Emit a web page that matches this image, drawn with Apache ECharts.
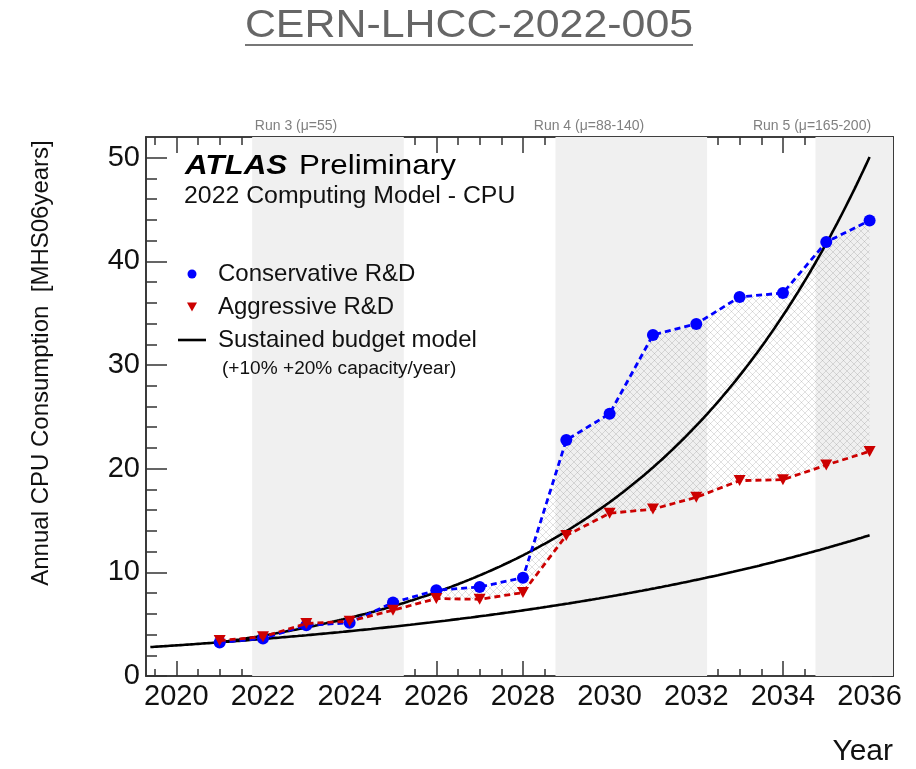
<!DOCTYPE html>
<html>
<head>
<meta charset="utf-8">
<title>ATLAS 2022 Computing Model - CPU</title>
<script src="https://cdn.jsdelivr.net/npm/echarts@6/dist/echarts.min.js"></script>
<style>
  html, body { margin: 0; padding: 0; background: #fff; }
  #chart { width: 916px; height: 769px; }
</style>
</head>
<body>
<div id="chart"></div>
<script>
// ---- data ---------------------------------------------------------------
const years = [2021, 2022, 2023, 2024, 2025, 2026, 2027, 2028,
               2029, 2030, 2031, 2032, 2033, 2034, 2035, 2036];
// Annual CPU consumption [MHS06 years]
const conservativeRD = [3.24, 3.62, 4.90, 5.13, 7.08, 8.27, 8.59, 9.49,
                        22.76, 25.30, 32.90, 33.97, 36.57, 36.95, 41.86, 43.95];
const aggressiveRD   = [3.42, 3.78, 5.06, 5.29, 6.35, 7.47, 7.40, 8.05,
                        13.56, 15.70, 16.10, 17.24, 18.85, 18.94, 20.35, 21.67];

// Sustained budget model: flat-budget capacity growth of +10% and +20% per year
const budgetBaseYear = 2021;
const budgetBaseValue = 3.25;
const budgetLow  = { rate: 0.10, from: 2019.4, to: 2036 };
const budgetHigh = { rate: 0.20, from: 2021,   to: 2036 };

// LHC run periods
const runNames  = ['Run 3 (\u03bc=55)', 'Run 4 (\u03bc=88-140)', 'Run 5 (\u03bc=165-200)'];
const runStarts = [2021.75, 2028.75, 2034.75];
const runEnds   = [2025.25, 2032.25, 2036.54];

// axis ticks
const xTickYears  = [2020, 2022, 2024, 2026, 2028, 2030, 2032, 2034, 2036];
const yTickValues = [0, 10, 20, 30, 40, 50];

// ---- helpers --------------------------------------------------------------
const X_MIN = 2019.3, X_MAX = 2036.54, Y_MIN = 0, Y_MAX = 52;
const FONT = "'Liberation Sans', Arial, Helvetica, sans-serif";
const AXIS_COLOR = '#333';

const xMinorTicks = [];
for (let v = 2019.5; v <= 2036.5; v += 0.5) xMinorTicks.push(v);
const yMinorTicks = [];
for (let v = 0; v <= 50; v += 2) yMinorTicks.push(v);

function modelCurve(m) {
  const pts = [];
  const step = 0.05;
  const n = Math.round((m.to - m.from) / step);
  for (let i = 0; i <= n; i++) {
    const t = m.from + i * step;
    pts.push([t, budgetBaseValue * Math.pow(1 + m.rate, t - budgetBaseYear)]);
  }
  return pts;
}

// cross-hatch tile used between the two R&D scenarios
const hatchCanvas = document.createElement('canvas');
hatchCanvas.width = 7; hatchCanvas.height = 7;
(function () {
  const c = hatchCanvas.getContext('2d');
  c.strokeStyle = 'rgba(90,90,90,0.26)';
  c.lineWidth = 0.7;
  c.beginPath();
  c.moveTo(0, 0); c.lineTo(7, 7);
  c.moveTo(7, 0); c.lineTo(0, 7);
  c.stroke();
})();

function xAxis(gridIndex, position, ticks, len, withLabels) {
  return {
    type: 'value', gridIndex, position, min: X_MIN, max: X_MAX,
    axisLine: { show: true, onZero: false, lineStyle: { color: AXIS_COLOR, width: 1.6 } },
    axisTick: { show: true, inside: true, length: len, customValues: ticks,
                lineStyle: { color: AXIS_COLOR, width: 1.5 } },
    axisLabel: { show: withLabels, customValues: ticks, margin: 6,
                 fontFamily: FONT, fontSize: 29, color: '#111',
                 formatter: v => String(v) },
    splitLine: { show: false }
  };
}
function yAxis(gridIndex, position, ticks, len, withLabels) {
  return {
    type: 'value', gridIndex, position, min: Y_MIN, max: Y_MAX,
    axisLine: { show: true, onZero: false, lineStyle: { color: AXIS_COLOR, width: 1.6 } },
    axisTick: { show: true, inside: true, length: len, customValues: ticks,
                lineStyle: { color: AXIS_COLOR, width: 1.5 } },
    axisLabel: { show: withLabels, customValues: ticks, margin: 6,
                 fontFamily: FONT, fontSize: 29, color: '#111',
                 formatter: v => String(v) },
    splitLine: { show: false }
  };
}

const gridBox = { left: 146, top: 137, width: 747, height: 539 };

function label(x, y, text, style, extra) {
  return Object.assign({ type: 'text', x, y, z: 100,
    style: Object.assign({ text, fontFamily: FONT, fill: '#111',
                           textAlign: 'left', textVerticalAlign: 'middle' }, style) }, extra || {});
}

// ---- chart ---------------------------------------------------------------
const chart = echarts.init(document.getElementById('chart'), null, { renderer: 'canvas' });

chart.setOption({
  backgroundColor: '#fff',
  animation: false,
  grid: [
    Object.assign({}, gridBox),
    Object.assign({}, gridBox)
  ],
  xAxis: [
    xAxis(0, 'bottom', xTickYears, 15, true),
    xAxis(0, 'top', xTickYears, 16, false),
    xAxis(1, 'bottom', xMinorTicks, 7, false),
    xAxis(1, 'top', xMinorTicks, 8, false)
  ],
  yAxis: [
    yAxis(0, 'left', yTickValues, 21, true),
    yAxis(0, 'right', yTickValues, 21, false),
    yAxis(1, 'left', yMinorTicks, 11, false),
    yAxis(1, 'right', yMinorTicks, 11, false)
  ],
  legend: {
    orient: 'vertical', left: 173, top: 257, z: 100,
    itemWidth: 28, itemHeight: 9, itemGap: 9,
    selectedMode: false,
    textStyle: { fontFamily: FONT, fontSize: 24, color: '#111', padding: [0, 0, 0, 7] },
    itemStyle: { borderWidth: 0 },
    data: [
      { name: 'Conservative R&D', icon: 'circle' },
      { name: 'Aggressive R&D', icon: 'path://M0,0L10,0L5,9Z' },
      { name: 'Sustained budget model', icon: 'path://M0,0H28V2.6H0Z' }
    ]
  },
  graphic: [
    label(469, 26, 'CERN-LHCC-2022-005', { fontSize: 39, fill: '#666', textAlign: 'center' }, { scaleX: 1.1 }),
    { type: 'rect', z: 100, shape: { x: 245, y: 44, width: 448, height: 2 }, style: { fill: '#777' } },

    label(185, 166, 'ATLAS', { fontSize: 28, fontWeight: 'bold', fontStyle: 'italic', fill: '#000' }, { scaleX: 1.12 }),
    label(299, 166, 'Preliminary', { fontSize: 28, fill: '#000' }, { scaleX: 1.12 }),
    label(184, 197, '2022 Computing Model - CPU', { fontSize: 23 }, { scaleX: 1.08 }),
    label(222, 369, '(+10% +20% capacity/year)', { fontSize: 18 }, { scaleX: 1.06 }),

    label(296, 126, runNames[0], { fontSize: 14, fill: '#808080', textAlign: 'center' }),
    label(589, 126, runNames[1], { fontSize: 14, fill: '#808080', textAlign: 'center' }),
    label(812, 126, runNames[2], { fontSize: 14, fill: '#808080', textAlign: 'center' }),

    label(893, 752, 'Year', { fontSize: 30, textAlign: 'right' }),
    label(41, 363, 'Annual CPU Consumption  [MHS06years]', { fontSize: 24, textAlign: 'center' },
          { rotation: Math.PI / 2 })
  ],
  series: [
    {
      // run period shading
      type: 'line', name: 'runs', xAxisIndex: 0, yAxisIndex: 0, z: 0,
      data: [], silent: true, showSymbol: false,
      markArea: {
        silent: true,
        itemStyle: { color: '#f0f0f0' },
        label: { show: false },
        data: runStarts.map((s, i) => [{ xAxis: s }, { xAxis: runEnds[i] }])
      }
    },
    {
      // band between the two R&D scenarios
      type: 'custom', name: 'R&D range', xAxisIndex: 0, yAxisIndex: 0, z: 1,
      silent: true, clip: true,
      data: [[years[0], conservativeRD[0]]],
      renderItem: function (params, api) {
        const pts = [];
        for (let i = 0; i < years.length; i++) pts.push(api.coord([years[i], conservativeRD[i]]));
        for (let i = years.length - 1; i >= 0; i--) pts.push(api.coord([years[i], aggressiveRD[i]]));
        return {
          type: 'polygon',
          shape: { points: pts },
          style: { fill: { image: hatchCanvas, repeat: 'repeat' }, stroke: null }
        };
      }
    },
    {
      type: 'line', name: 'Sustained budget model', xAxisIndex: 0, yAxisIndex: 0, z: 2,
      data: modelCurve(budgetLow), showSymbol: false, symbol: 'none',
      itemStyle: { color: '#000' },
      lineStyle: { color: '#000', width: 2.6 }
    },
    {
      type: 'line', name: 'Sustained budget model', xAxisIndex: 0, yAxisIndex: 0, z: 2,
      data: modelCurve(budgetHigh), showSymbol: false, symbol: 'none',
      itemStyle: { color: '#000' },
      lineStyle: { color: '#000', width: 2.6 }
    },
    {
      type: 'line', name: 'Conservative R&D', xAxisIndex: 0, yAxisIndex: 0, z: 3,
      data: years.map((y, i) => [y, conservativeRD[i]]),
      symbol: 'circle', symbolSize: 12, showAllSymbol: true,
      itemStyle: { color: '#0000ff' },
      lineStyle: { color: '#0000ff', width: 2.8, type: [6, 4] }
    },
    {
      type: 'line', name: 'Aggressive R&D', xAxisIndex: 0, yAxisIndex: 0, z: 4,
      data: years.map((y, i) => [y, aggressiveRD[i]]),
      symbol: 'path://M0,0L10,0L5,9Z', symbolSize: [12, 11], showAllSymbol: true,
      itemStyle: { color: '#cc0000' },
      lineStyle: { color: '#cc0000', width: 2.8, type: [6, 4] }
    }
  ]
});
</script>
</body>
</html>
